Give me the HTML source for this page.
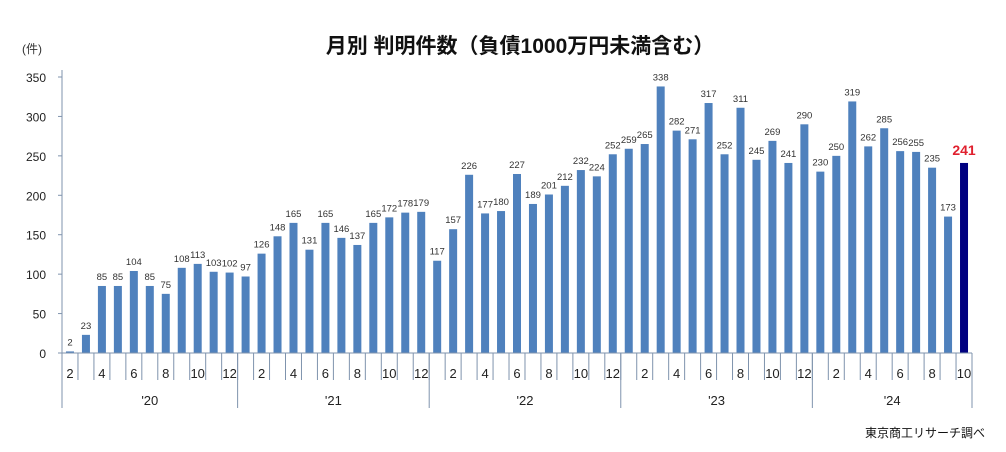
<!DOCTYPE html>
<html><head><meta charset="utf-8"><style>
body{margin:0;background:#fff;width:1006px;height:447px;overflow:hidden}
svg text{font-family:"Liberation Sans","Noto Sans CJK JP",sans-serif}
</style></head><body>
<svg id="c" width="1006" height="447">
<text x="520" y="53" text-anchor="middle" font-size="21" font-weight="bold" fill="#111">月別 判明件数（負債1000万円未満含む）</text>
<text x="22" y="53" font-size="12" fill="#333">(件)</text>
<text x="985" y="437" text-anchor="end" font-size="12" fill="#111">東京商工リサーチ調べ</text>
<g id="g"></g>
</svg>
<script>
const years=["'20","'21","'22","'23","'24"];
const yearMonths=[[2,3,4,5,6,7,8,9,10,11,12],[1,2,3,4,5,6,7,8,9,10,11,12],[1,2,3,4,5,6,7,8,9,10,11,12],[1,2,3,4,5,6,7,8,9,10,11,12],[1,2,3,4,5,6,7,8,9,10]];
const values=[2,23,85,85,104,85,75,108,113,103,102,
97,126,148,165,131,165,146,137,165,172,178,179,
117,157,226,177,180,227,189,201,212,232,224,252,
259,265,338,282,271,317,252,311,245,269,241,290,
230,250,319,262,285,256,255,235,173,241];
const yTicks=[0,50,100,150,200,250,300,350];
const NS="http://www.w3.org/2000/svg",g=document.getElementById('g');
const x0=62,x1=972,y0=353,yTop=77,yMax=350;
const n=values.length,cw=(x1-x0)/n;
const Y=v=>y0-(v/yMax)*(y0-yTop);
const X=i=>x0+cw*i;
function mk(t,a,txt){const e=document.createElementNS(NS,t);for(const k in a)e.setAttribute(k,a[k]);if(txt!=null)e.textContent=txt;g.appendChild(e);return e;}
yTicks.forEach(v=>{
const t=mk('text',{x:46,y:Y(v)+5,'text-anchor':'end','font-size':12,fill:'#222'},v);


const l=mk('line',{x1:x0-4,x2:x0,y1:Y(v),y2:Y(v),stroke:'#7f93ad'});


});
values.forEach((v,i)=>{
const last=i===n-1;
const b=mk('rect',{x:X(i)+cw/2-4,y:Y(v),width:8,height:y0-Y(v),fill:last?'#000080':'#4f81bd'});


const t=mk('text',{x:X(i)+cw/2,y:Y(v)-(last?8:6),'text-anchor':'middle','font-size':last?14:9.5,'font-weight':last?'bold':'normal',fill:last?'#e0202e':'#333'},v);


});
let idx=0;
yearMonths.forEach((ms,yi)=>{
const start=idx;
ms.forEach(m=>{
if(m%2===0){const t=mk('text',{x:X(idx)+cw/2,y:378,'text-anchor':'middle','font-size':13,fill:'#222'},m);

}
if(idx>0){const l=mk('line',{x1:X(idx),x2:X(idx),y1:y0,y2:380,stroke:'#7f93ad'});

}
idx++;
});
const yl=mk('text',{x:(X(start)+X(idx))/2,y:405,'text-anchor':'middle','font-size':13,fill:'#222'},years[yi]);


const d=mk('line',{x1:X(idx),x2:X(idx),y1:y0,y2:408,stroke:'#7f93ad'});


});
const ya=mk('line',{x1:x0,x2:x0,y1:70,y2:408,stroke:'#7f93ad'});


const xa=mk('line',{x1:x0-4,x2:x1,y1:y0,y2:y0,stroke:'#7f93ad'});


</script>
</body></html>
